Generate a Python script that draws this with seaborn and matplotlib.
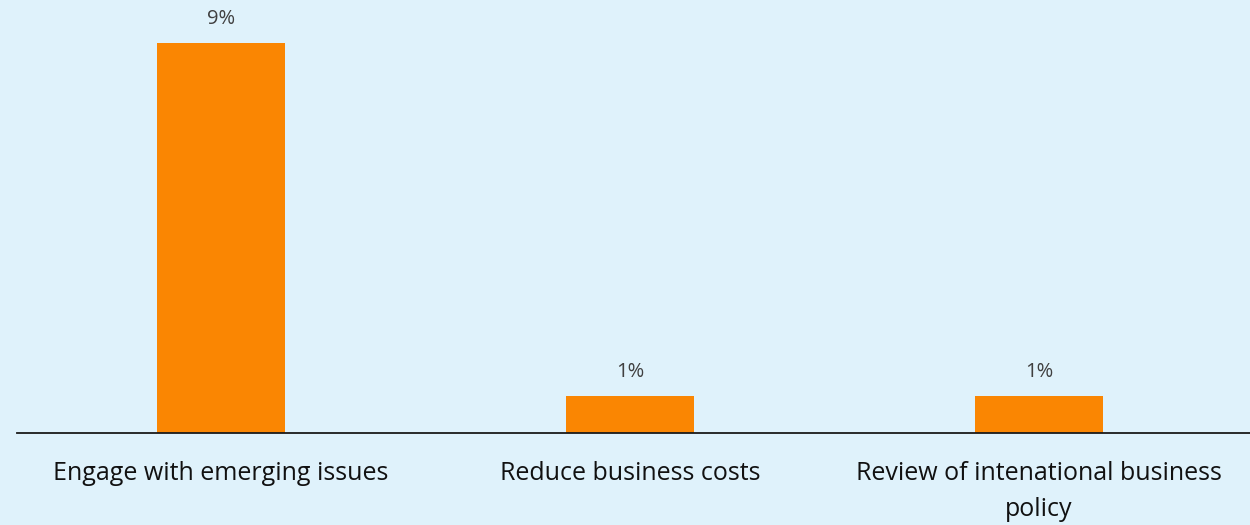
import matplotlib
matplotlib.use("Agg")
import matplotlib.pyplot as plt
import seaborn as sns
import pandas as pd

categories = ["Engage with emerging issues", "Reduce business costs",
              "Review of intenational business\npolicy"]
values = [9.4, 0.9, 0.9]
value_labels = ["9%", "1%", "1%"]

bg = "#DFF2FB"
sns.set_style("white")
plt.rcParams['font.family'] = ['Open Sans', 'DejaVu Sans']

fig = plt.figure(figsize=(12.5, 5.25), dpi=100)
fig.patch.set_facecolor(bg)
ax = fig.add_axes([0.0136, 0.1752, 0.9864, 0.8248])
ax.set_facecolor(bg)

df = pd.DataFrame({"cat": categories, "val": values})
sns.barplot(data=df, x="cat", y="val", color="#FA8602", width=0.313,
            saturation=1, ax=ax, edgecolor="none")
ax.set_xlim(-0.499, 2.516)
ax.set_ylim(0, 9.4 * 433 / 390)

for i, (v, lab) in enumerate(zip(values, value_labels)):
    ax.annotate(lab, (i, v), xytext=(0, 10), textcoords="offset points",
                ha="center", va="bottom", fontsize=14.5, color="#404040")

for s in ["left", "right", "top"]:
    ax.spines[s].set_visible(False)
ax.spines["bottom"].set_color("#1a1a1a")
ax.spines["bottom"].set_linewidth(1.3)
ax.set_yticks([])
ax.set_xlabel("")
ax.set_ylabel("")
ax.tick_params(axis="x", length=0, pad=20, labelsize=18, labelcolor="#111111")
for t in ax.get_xticklabels():
    t.set_linespacing(1.6)

fig.savefig("out.png", dpi=100, facecolor=bg)
